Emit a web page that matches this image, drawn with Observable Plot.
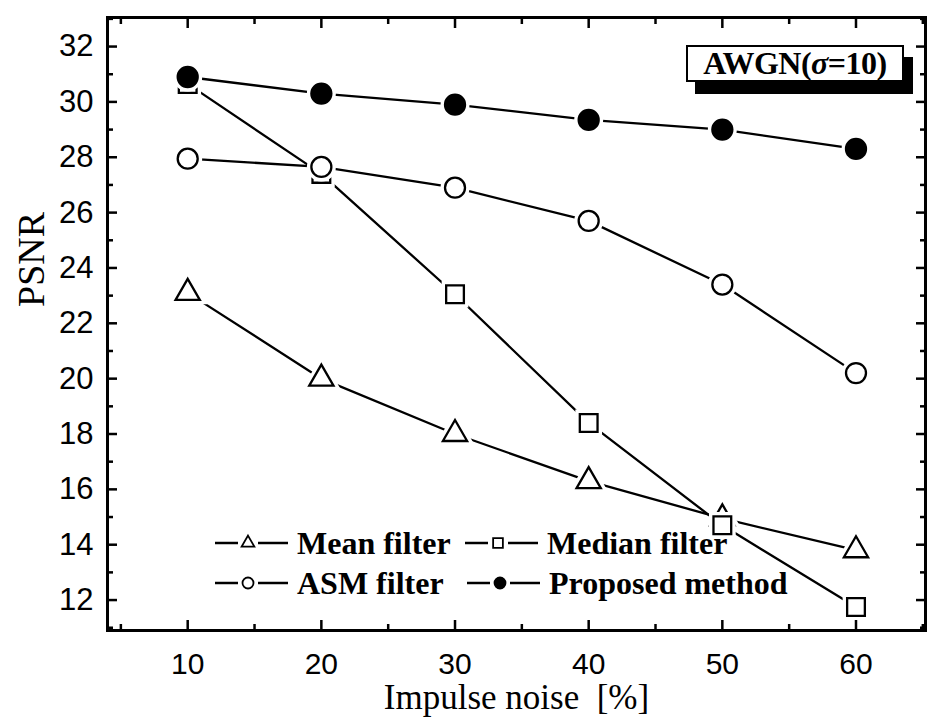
<!DOCTYPE html>
<html><head><meta charset="utf-8">
<script src="https://cdn.jsdelivr.net/npm/d3@7"></script>
<script src="https://cdn.jsdelivr.net/npm/@observablehq/plot@0.6"></script>
<style>
body{margin:0;background:#fff;}
#wrap{position:relative;width:934px;height:718px;overflow:hidden;}
.leg{position:absolute;display:flex;align-items:center;height:30px;font-family:"Liberation Serif","Times New Roman",serif;font-weight:bold;font-size:32px;color:#000;white-space:nowrap;}
.leg svg{margin-right:9px;}
#awgn{position:absolute;left:686px;top:45px;width:214px;height:33px;border:2.5px solid #000;background:#fff;box-shadow:9px 12px 0 #000;font-family:"Liberation Serif","Times New Roman",serif;font-weight:bold;font-size:32px;line-height:33px;text-align:center;letter-spacing:-0.5px;}
</style></head><body><div id="wrap"></div>
<script>
const noise = [10, 20, 30, 40, 50, 60];
const meanFilter = [23.1, 20.0, 18.0, 16.3, 14.95, 13.8];
const medianFilter = [30.65, 27.4, 23.05, 18.4, 14.7, 11.75];
const asmFilter = [27.95, 27.65, 26.9, 25.7, 23.4, 20.2];
const proposedMethod = [30.9, 30.3, 29.9, 29.35, 29.0, 28.3];
const seriesNames = ["Mean filter", "Median filter", "ASM filter", "Proposed method"];
const seriesValues = [meanFilter, medianFilter, asmFilter, proposedMethod];
const seriesSymbols = ["triangle", "square", "circle", "circle"];
const seriesFills = ["white", "white", "white", "black"];
const xMajor = [10, 20, 30, 40, 50, 60];
const xMinor = [5, 15, 25, 35, 45, 55, 65];
const yMajor = [12, 14, 16, 18, 20, 22, 24, 26, 28, 30, 32];
const yMinor = [11, 13, 15, 17, 19, 21, 23, 25, 27, 29, 31, 33];
const xTitle = "Impulse noise  [%]";
const yTitle = "PSNR";
const boxLabel = "AWGN";

const markerR = {triangle: 9, square: 10, circle: 10};

const marks = [];
seriesNames.forEach((name, i) => {
  const rows = noise.map((x, j) => ({x, y: seriesValues[i][j], series: name}));
  marks.push(Plot.line(rows, {x: "x", y: "y", stroke: "black", strokeWidth: 2.3}));
});
seriesNames.forEach((name, i) => {
  const rows = noise.map((x, j) => ({x, y: seriesValues[i][j], series: name}));
  const sym = seriesSymbols[i];
  marks.push(Plot.dot(rows, {x: "x", y: "y", symbol: () => sym, r: markerR[sym], fill: "white", stroke: "white", strokeWidth: 9}));
  marks.push(Plot.dot(rows, {x: "x", y: "y", symbol: () => sym, r: markerR[sym], fill: seriesFills[i], stroke: "black", strokeWidth: 2.3}));
});

const sans = "'Liberation Sans', Arial, sans-serif";
const serif = "'Liberation Serif', 'Times New Roman', serif";
const blank = () => "";

const chart = Plot.plot({
  width: 934,
  height: 718,
  marginLeft: 107,
  marginRight: 9,
  marginTop: 17,
  marginBottom: 88,
  style: {fontFamily: sans, background: "white", color: "black"},
  x: {domain: [4, 65.2]},
  y: {domain: [10.9, 33.05]},
  symbol: {type: "identity"},
  marks: [
    ...marks,
    Plot.frame({stroke: "black", strokeWidth: 3}),
    Plot.axisX(xMajor, {anchor: "bottom", tickSize: -10, strokeWidth: 2.5, tickFormat: blank, label: null}),
    Plot.axisX(xMinor, {anchor: "bottom", tickSize: -6, strokeWidth: 2.5, tickFormat: blank, label: null}),
    Plot.axisX(xMajor, {anchor: "top", tickSize: -10, strokeWidth: 2.5, tickFormat: blank, label: null}),
    Plot.axisX(xMinor, {anchor: "top", tickSize: -6, strokeWidth: 2.5, tickFormat: blank, label: null}),
    Plot.axisY(yMajor, {anchor: "left", tickSize: -10, strokeWidth: 2.5, tickFormat: blank, label: null}),
    Plot.axisY(yMinor, {anchor: "left", tickSize: -6, strokeWidth: 2.5, tickFormat: blank, label: null}),
    Plot.axisY(yMajor, {anchor: "right", tickSize: -10, strokeWidth: 2.5, tickFormat: blank, label: null}),
    Plot.axisY(yMinor, {anchor: "right", tickSize: -6, strokeWidth: 2.5, tickFormat: blank, label: null}),
    Plot.axisX(xMajor, {anchor: "bottom", tickSize: 0, tickPadding: 22, fontSize: 30, fontFamily: sans, label: null}),
    Plot.axisY(yMajor, {anchor: "left", tickSize: 0, tickPadding: 14, fontSize: 31, fontFamily: sans, label: null}),
    Plot.text([xTitle], {frameAnchor: "bottom", dy: 67, fontSize: 35, fontFamily: serif, lineAnchor: "middle"}),
    Plot.text([yTitle], {frameAnchor: "left", dx: -76, dy: -17, rotate: -90, fontSize: 38, fontFamily: serif, lineAnchor: "middle"})
  ]
});

const wrap = document.getElementById("wrap");
wrap.appendChild(chart);

// legend (inside plot frame), built from the series arrays
const legendPos = [[215, 528], [465, 528], [215, 568], [467, 568]];
seriesNames.forEach((name, i) => {
  const div = document.createElement("div");
  div.className = "leg";
  div.style.left = legendPos[i][0] + "px";
  div.style.top = legendPos[i][1] + "px";
  const svg = d3.create("svg").attr("width", 73).attr("height", 30);
  svg.append("line").attr("x1", 0).attr("x2", 23).attr("y1", 15).attr("y2", 15).attr("stroke", "black").attr("stroke-width", 2.5);
  svg.append("line").attr("x1", 43).attr("x2", 73).attr("y1", 15).attr("y2", 15).attr("stroke", "black").attr("stroke-width", 2.5);
  const symType = seriesSymbols[i] === "triangle" ? d3.symbolTriangle : seriesSymbols[i] === "square" ? d3.symbolSquare : d3.symbolCircle;
  svg.append("path").attr("d", d3.symbol(symType, seriesSymbols[i] === "triangle" ? 70 : 95)())
    .attr("transform", "translate(33,15)")
    .attr("fill", seriesFills[i]).attr("stroke", "black").attr("stroke-width", 1.8);
  div.appendChild(svg.node());
  const span = document.createElement("span");
  span.textContent = name;
  div.appendChild(span);
  wrap.appendChild(div);
});

const box = document.createElement("div");
box.id = "awgn";
box.innerHTML = boxLabel + "(<i>σ</i>=10)";
wrap.appendChild(box);
</script>
</body></html>
